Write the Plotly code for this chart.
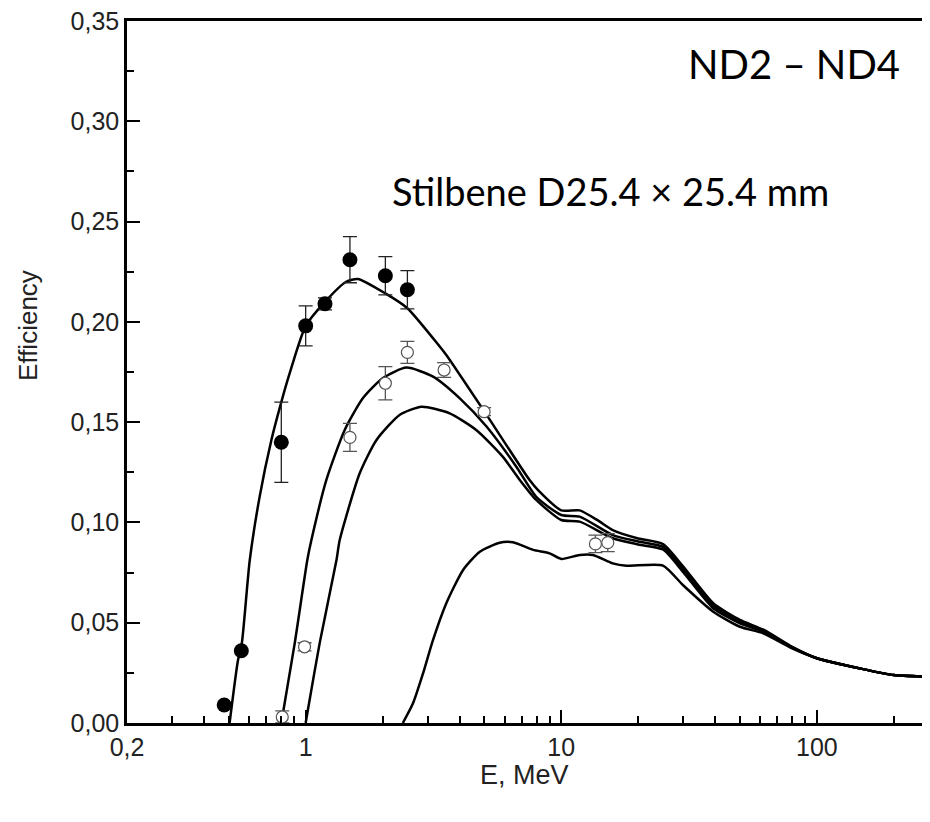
import plotly.graph_objects as go
import numpy as np

# ---- experimental points (filled) ----
filled_E = [0.48, 0.56, 0.803, 1.0, 1.19, 1.49, 2.05, 2.5]
filled_eff = [0.009, 0.036, 0.140, 0.198, 0.209, 0.231, 0.223, 0.216]
filled_err = [0.0, 0.0, 0.020, 0.010, 0.003, 0.0115, 0.0095, 0.0095]

# ---- experimental points (open) ----
open_E = [0.81, 0.99, 1.49, 2.05, 2.5, 3.48, 4.99, 13.6, 15.2]
open_eff = [0.003, 0.038, 0.1424, 0.1694, 0.1848, 0.176, 0.1552, 0.0893, 0.0899]
open_err = [0.003, 0.002, 0.007, 0.0083, 0.0055, 0.0037, 0.002, 0.0044, 0.0045]

# ---- calculated curves ----
curveA_E = [0.504, 0.543, 0.563, 0.604, 0.661, 0.734, 0.803, 0.866, 1.0, 1.19, 1.44, 1.60,
            2.05, 2.5, 3.35, 3.55, 5.02, 7.53, 8.13, 10, 11.8, 13.9, 15.9, 20, 25,
            30, 39.3, 50, 62, 80, 100, 150, 200, 277]
curveA_eff = [0.0, 0.031, 0.040, 0.081, 0.113, 0.141, 0.160, 0.1744, 0.198, 0.210, 0.220, 0.2214,
              0.2142, 0.2068, 0.1876, 0.1835, 0.155, 0.121, 0.116, 0.106, 0.106, 0.101, 0.0962, 0.092, 0.0892,
              0.078, 0.0597, 0.0514, 0.0464, 0.038, 0.0323, 0.027, 0.0239, 0.0231]

curveB_E = [0.803, 0.906, 1.015, 1.053, 1.205, 1.42, 1.676, 2.005, 2.478, 3.15, 4.0, 5.1, 6.67,
            7.98, 10, 11.8, 15.9, 20, 25, 30, 39.3, 50, 62, 80, 100, 150, 200, 277]
curveB_eff = [0.0, 0.0397, 0.0813, 0.0912, 0.1212, 0.146, 0.162, 0.172, 0.1772, 0.1727, 0.162, 0.1478, 0.1278,
              0.1128, 0.1037, 0.1029, 0.0937, 0.0905, 0.0878, 0.0765, 0.0585, 0.0505, 0.046, 0.0378, 0.0323, 0.027, 0.0239, 0.0231]

curveC_E = [1.0, 1.02, 1.134, 1.32, 1.359, 1.627, 1.89, 2.33, 2.84, 3.66, 4.66, 5.9, 6.88,
            7.98, 10, 11.8, 15.9, 20, 25, 30, 39.3, 50, 62, 80, 100, 150, 200, 277]
curveC_eff = [0.0, 0.0065, 0.0397, 0.0813, 0.0912, 0.1245, 0.141, 0.1536, 0.1577, 0.1544, 0.146, 0.1328, 0.1212,
              0.1112, 0.1012, 0.1004, 0.0921, 0.089, 0.0865, 0.0752, 0.0572, 0.0497, 0.0455, 0.0376, 0.0323, 0.027, 0.0239, 0.0231]

curveD_E = [2.40, 2.63, 2.88, 3.15, 3.55, 4.13, 4.8, 5.74, 6.47, 7.76, 9.0, 10, 11.8, 13.3,
            15.9, 18.0, 25, 29.9, 39.3, 50, 61.7, 80, 100, 150, 200, 277]
curveD_eff = [0.0, 0.0098, 0.0248, 0.0414, 0.0597, 0.0763, 0.0854, 0.0899, 0.0901, 0.0863, 0.0846, 0.0818, 0.0838, 0.0838,
              0.0796, 0.0784, 0.0785, 0.0688, 0.0555, 0.048, 0.0447, 0.0372, 0.0323, 0.027, 0.0239, 0.0231]

x_tickvals = [0.2, 1, 10, 100]
x_ticktext = ["0,2", "1", "10", "100"]
y_tickvals = [0.0, 0.05, 0.10, 0.15, 0.20, 0.25, 0.30, 0.35]
y_ticktext = ["0,00", "0,05", "0,10", "0,15", "0,20", "0,25", "0,30", "0,35"]

fig = go.Figure()

for ex, ey in [(curveA_E, curveA_eff), (curveB_E, curveB_eff), (curveC_E, curveC_eff), (curveD_E, curveD_eff)]:
    fig.add_trace(go.Scatter(x=ex, y=ey, mode="lines",
                             line=dict(color="black", width=2.5, shape="spline", smoothing=0.6),
                             showlegend=False, hoverinfo="skip"))

fig.add_trace(go.Scatter(
    x=open_E, y=open_eff, mode="markers",
    marker=dict(symbol="circle", size=12, color="white", line=dict(color="#555555", width=1.2)),
    error_y=dict(type="data", array=open_err, visible=True, color="#555555", thickness=1.3, width=7),
    showlegend=False))

fig.add_trace(go.Scatter(
    x=filled_E, y=filled_eff, mode="markers",
    marker=dict(symbol="circle", size=15, color="black"),
    error_y=dict(type="data", array=filled_err, visible=True, color="#222222", thickness=1.3, width=7),
    showlegend=False))

minor_x = [v * m for v in [0.1, 1, 10, 100] for m in range(2, 10) if 0.2 < v * m < 280]

# page has an 8px body margin: plot area placed at page x 127..930, y 21..723
fig.update_layout(
    width=930, height=822,
    margin=dict(l=119, r=8, t=13, b=107),
    paper_bgcolor="white", plot_bgcolor="white",
    font=dict(family="Liberation Sans, Arial, sans-serif", color="#111111", size=26),
    xaxis=dict(
        type="log", range=[np.log10(0.2), np.log10(277)],
        automargin=False,
        showgrid=False, zeroline=False,
        showline=True, linecolor="black", linewidth=2.5, mirror=True,
        ticks="inside", ticklen=13, tickwidth=2, tickcolor="black",
        tickvals=x_tickvals, ticktext=x_ticktext,
        tickfont=dict(size=25, color="#222222"),
        ticklabeloverflow="allow",
        minor=dict(tickvals=minor_x, ticks="inside", ticklen=7, tickwidth=2, tickcolor="black"),
    ),
    yaxis=dict(
        range=[0, 0.35], automargin=False,
        showgrid=False, zeroline=False,
        showline=True, linecolor="black", linewidth=2.5,
        ticks="inside", ticklen=13, tickwidth=2, tickcolor="black",
        tickvals=y_tickvals, ticktext=y_ticktext,
        tickfont=dict(size=25, color="#222222"),
        ticklabeloverflow="allow",
        minor=dict(dtick=0.025, tick0=0, ticks="inside", ticklen=7, tickwidth=2, tickcolor="black"),
    ),
    annotations=[
        dict(text="Efficiency", xref="paper", yref="paper", x=-0.1233, y=0.567,
             textangle=-90, showarrow=False, font=dict(size=26, color="#222222"),
             xanchor="center", yanchor="middle"),
        dict(text="E, MeV", xref="paper", yref="paper", x=0.4956, y=-0.074,
             showarrow=False, font=dict(size=27, color="#222222"),
             xanchor="center", yanchor="middle"),
        dict(text="ND2 – ND4", xref="paper", yref="paper", x=0.831, y=0.9387,
             showarrow=False, font=dict(family="Lato, sans-serif", size=40, color="black"),
             xanchor="center", yanchor="middle"),
        dict(text="Stilbene D25.4 × 25.4 mm", xref="paper", yref="paper", x=0.6015, y=0.758,
             showarrow=False, font=dict(family="Lato, sans-serif", size=38, color="black"),
             xanchor="center", yanchor="middle"),
    ],
)

fig.write_html("out.html")
